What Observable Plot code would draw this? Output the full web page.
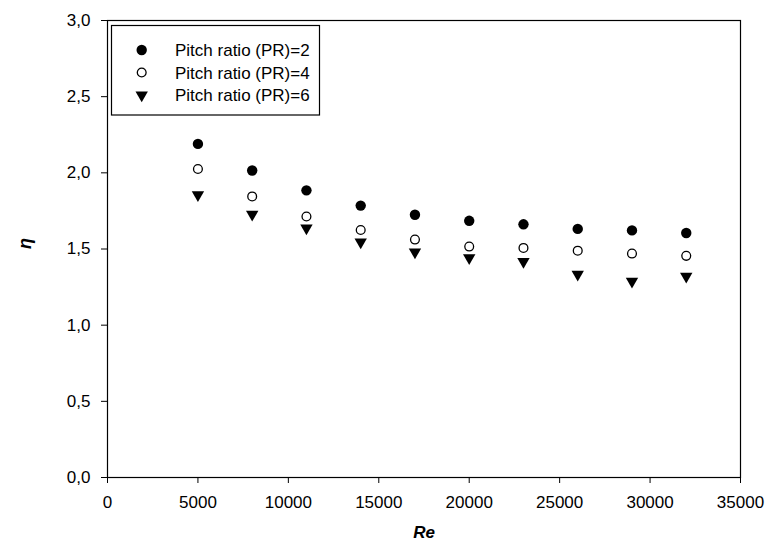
<!DOCTYPE html>
<html>
<head>
<meta charset="utf-8">
<script src="https://cdn.jsdelivr.net/npm/d3@7"></script>
<script src="https://cdn.jsdelivr.net/npm/@observablehq/plot@0.6"></script>
<style>
  html, body { margin: 0; padding: 0; background: #fff; }
  #wrap { position: relative; width: 768px; height: 550px; font-family: "Liberation Sans", Arial, sans-serif; }
  #legend { position: absolute; left: 0; top: 0; pointer-events: none; }
</style>
</head>
<body>
<div id="wrap"></div>
<script>
// ---- data ----
const reynolds = [5000, 8000, 11000, 14000, 17000, 20000, 23000, 26000, 29000, 32000];
const etaPR2 = [2.19, 2.015, 1.885, 1.785, 1.725, 1.685, 1.662, 1.632, 1.622, 1.605];
const etaPR4 = [2.025, 1.845, 1.713, 1.625, 1.562, 1.516, 1.507, 1.489, 1.470, 1.455];
const etaPR6 = [1.856, 1.727, 1.638, 1.546, 1.480, 1.442, 1.418, 1.333, 1.288, 1.320];
const seriesNames = ["Pitch ratio (PR)=2", "Pitch ratio (PR)=4", "Pitch ratio (PR)=6"];
const xTicks = [0, 5000, 10000, 15000, 20000, 25000, 30000, 35000];
const yTicks = [0, 0.5, 1.0, 1.5, 2.0, 2.5, 3.0];
const xLabel = "Re";
const yLabel = "η";

const rows = (vals, s) => reynolds.map((re, i) => ({re, eta: vals[i], series: s}));
const d2 = rows(etaPR2, seriesNames[0]);
const d4 = rows(etaPR4, seriesNames[1]);
const d6 = rows(etaPR6, seriesNames[2]);

const font = "Liberation Sans, Arial, sans-serif";
const commaFmt = d => d3.format(".1f")(d).replace(".", ",");

const chart = Plot.plot({
  width: 768,
  height: 550,
  marginLeft: 107,
  marginRight: 28,
  marginTop: 20,
  marginBottom: 73,
  style: { fontFamily: font, fontSize: "17px", color: "#000", background: "#fff" },
  x: { domain: [0, 35000] },
  y: { domain: [0, 3] },
  marks: [
    Plot.frame({ stroke: "#000", strokeWidth: 1.2 }),
    Plot.axisX({ ticks: xTicks, tickFormat: d => String(d), tickSize: 6, tickPadding: 12, label: null, fontSize: "17px" }),
    Plot.axisY({ ticks: yTicks, tickFormat: commaFmt, tickSize: 6, tickPadding: 11, label: null, fontSize: "17px" }),
    Plot.dot(d2, { x: "re", y: "eta", symbol: "circle", r: 5.2, fill: "#000", stroke: "none" }),
    Plot.dot(d4, { x: "re", y: "eta", symbol: "circle", r: 4.4, fill: "#fff", stroke: "#000", strokeWidth: 1.3 }),
    Plot.dot(d6, { x: "re", y: "eta", symbol: "triangle", r: 4.6, fill: "#000", stroke: "none", rotate: 180 }),
    Plot.text([xLabel], { text: d => d, frameAnchor: "bottom", dy: 60, fontWeight: "bold", fontStyle: "italic", fontSize: 17 }),
    Plot.text([yLabel], { text: d => d, frameAnchor: "left", dx: -82, rotate: -90, fontWeight: "bold", fontStyle: "italic", fontSize: 18 })
  ]
});

const wrap = document.getElementById("wrap");
wrap.appendChild(chart);

// ---- legend (inside plot, upper-left) ----
const lg = d3.select(wrap).append("svg")
  .attr("id", "legend").attr("width", 768).attr("height", 550);
lg.append("rect")
  .attr("x", 111.5).attr("y", 25.5).attr("width", 208).attr("height", 89.5)
  .attr("fill", "#fff").attr("stroke", "#000").attr("stroke-width", 1.2);
const legendSymbols = [
  { type: d3.symbolCircle, r: 5.2, fill: "#000", stroke: "none", rot: 0 },
  { type: d3.symbolCircle, r: 4.4, fill: "#fff", stroke: "#000", rot: 0 },
  { type: d3.symbolTriangle, r: 4.6, fill: "#000", stroke: "none", rot: 180 }
];
seriesNames.forEach((name, i) => {
  const cy = 50 + i * 22.5;
  const s = legendSymbols[i];
  lg.append("path")
    .attr("d", d3.symbol(s.type, Math.PI * s.r * s.r)())
    .attr("transform", `translate(141.7,${cy}) rotate(${s.rot})`)
    .attr("fill", s.fill).attr("stroke", s.stroke).attr("stroke-width", 1.3);
  lg.append("text")
    .attr("x", 175).attr("y", cy + 6)
    .attr("font-family", font).attr("font-size", "17px").attr("fill", "#000")
    .text(name);
});
</script>
</body>
</html>
